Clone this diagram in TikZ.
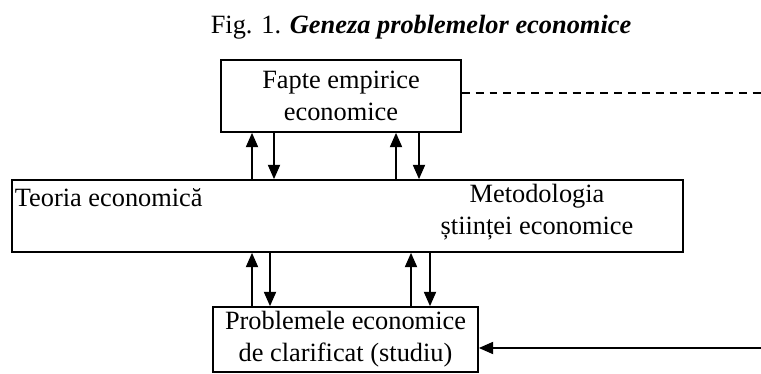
\documentclass[tikz,border=0pt]{standalone}
\usepackage{fontspec}
\setmainfont{Liberation Serif}
\usetikzlibrary{arrows.meta}
\begin{document}
\begin{tikzpicture}[x=0.455pt,y=-0.455pt,>={Triangle[length=6.5pt,width=5.5pt]}, font=\fontsize{12}{14.5}\selectfont, line width=0.75pt]
	\tikzset{box style/.style={draw, inner sep=0pt, align=center}}
	\useasboundingbox (0,0) rectangle (761,374);
	\node (titlu) at (421,27) {Fig. 1. \textbf{\textit{Geneza problemelor economice}}};
	\node[box style, minimum width=109.2pt, minimum height=32.8pt] (fapte) at (341,96) {Fapte empirice\\economice};
	\node[box style, minimum width=305.3pt, minimum height=32.8pt] (cadru) at (347.5,216) {};
	\node[anchor=west, inner sep=0pt] (teoria) at (14,198) {Teoria economică};
	\node[align=center, inner sep=0pt] (metodologia) at (537,212) {Metodologia\\științei economice};
	\node[box style, minimum width=120.6pt, minimum height=29.6pt] (probleme) at (345.5,339.5) {Problemele economice\\de clarificat (studiu)};
	\coordinate (capat sus) at (761,93);
	\coordinate (capat jos) at (761,348);
	% sageti intre casete
	\draw[->] (252,0 |- cadru.north) -- (252,0 |- fapte.south);
	\draw[->] (274,0 |- fapte.south) -- (274,0 |- cadru.north);
	\draw[->] (396,0 |- cadru.north) -- (396,0 |- fapte.south);
	\draw[->] (419,0 |- fapte.south) -- (419,0 |- cadru.north);
	\draw[->] (252,0 |- probleme.north) -- (252,0 |- cadru.south);
	\draw[->] (270,0 |- cadru.south) -- (270,0 |- probleme.north);
	\draw[->] (411,0 |- probleme.north) -- (411,0 |- cadru.south);
	\draw[->] (430,0 |- cadru.south) -- (430,0 |- probleme.north);
	% legaturi spre dreapta
	\draw[dash pattern=on 3.6pt off 2.7pt] (fapte.east |- capat sus) -- (capat sus);
	\draw[->] (capat jos) -- (probleme.east |- capat jos);
\end{tikzpicture}
\end{document}
